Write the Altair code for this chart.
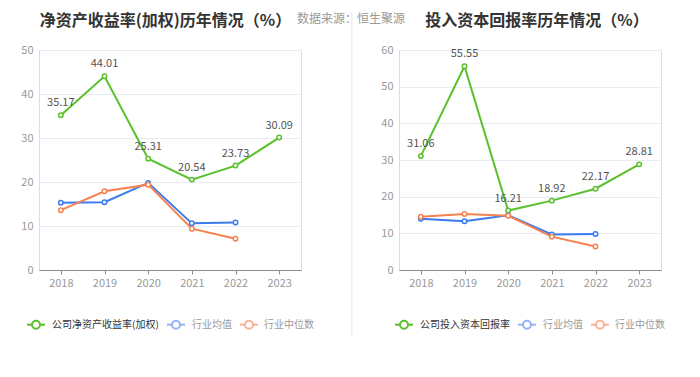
import altair as alt
import pandas as pd

years = ["2018", "2019", "2020", "2021", "2022", "2023"]

roe_company = [35.17, 44.01, 25.31, 20.54, 23.73, 30.09]
roe_avg = [15.3, 15.4, 19.8, 10.6, 10.8]
roe_median = [13.6, 17.9, 19.4, 9.4, 7.1]

roic_company = [31.06, 55.55, 16.21, 18.92, 22.17, 28.81]
roic_avg = [14.0, 13.3, 14.9, 9.7, 9.8]
roic_median = [14.5, 15.3, 14.8, 9.1, 6.4]

left_series = ["公司净资产收益率(加权)", "行业均值", "行业中位数"]
right_series = ["公司投入资本回报率", "行业均值", "行业中位数"]
left_title = "净资产收益率(加权)历年情况（%）"
right_title = "投入资本回报率历年情况（%）"
source_text = "数据来源：恒生聚源"
left_ticks = [0, 10, 20, 30, 40, 50]
right_ticks = [0, 10, 20, 30, 40, 50, 60]

line_colors = ["#5ac12c", "#3b7bf0", "#f7814f"]
legend_colors = ["#5ac12c", "#93b3f7", "#fab397"]
legend_text_colors = ["#333333", "#999999", "#999999"]

FONT = "Noto Sans CJK SC"
W, H = 262, 220
LEG_Y = 274.7
TOP = -37


def long_df(names, company, avg, median):
    rows = []
    for name, vals in zip(names, [company, avg, median]):
        for yr, v in zip(years, vals):
            rows.append({"year": yr, "series": name, "value": v})
    return pd.DataFrame(rows)


def legend_item(px, tx, label, col, tcol):
    d = alt.Chart(pd.DataFrame({"label": [label]}))
    rule = d.mark_rule(color=col, strokeWidth=2).encode(
        x=alt.value(px), x2=alt.value(px + 18), y=alt.value(LEG_Y))
    dot = d.mark_point(shape="circle", filled=True, fill="white", stroke=col,
                       strokeWidth=2, size=64, opacity=1).encode(
        x=alt.value(px + 9), y=alt.value(LEG_Y))
    txt = d.mark_text(align="left", baseline="middle", fontSize=10, color=tcol,
                      font=FONT).encode(
        x=alt.value(tx), y=alt.value(LEG_Y), text="label:N")
    return [rule, dot, txt]


def title_mark(title, cx):
    return alt.Chart(pd.DataFrame({"t": [title]})).mark_text(
        align="center", baseline="middle", fontSize=16, fontWeight="bold",
        color="#333333", font=FONT).encode(
        x=alt.value(cx), y=alt.value(TOP + 8), text="t:N")


def panel(names, company, avg, median, ticks, title, sym_x, text_x, title_cx, extra):
    df = long_df(names, company, avg, median)
    x = alt.X("year:O", scale=alt.Scale(type="point", padding=0.5, domain=years),
              axis=alt.Axis(title=None, labelAngle=0, domainColor="#8c8c8c",
                            tickColor="#8c8c8c", tickSize=4, labelColor="#999999",
                            labelFontSize=11, labelPadding=3, labelFont=FONT,
                            grid=False))
    y = alt.Y("value:Q", scale=alt.Scale(domain=[ticks[0], ticks[-1]], nice=False),
              axis=alt.Axis(title=None, values=ticks, domain=False, ticks=False,
                            gridColor="#e7ebf3", labelColor="#999999",
                            labelFontSize=11, labelPadding=6, labelFont=FONT))
    cscale = alt.Scale(domain=names, range=line_colors)
    base = alt.Chart(df)
    lines = base.mark_line(strokeWidth=2).encode(
        x=x, y=y, color=alt.Color("series:N", scale=cscale, legend=None))
    points = base.mark_point(shape="circle", filled=True, fill="white", size=20,
                             strokeWidth=1.5, opacity=1).encode(
        x=x, y=y, stroke=alt.Stroke("series:N", scale=cscale, legend=None))
    labels = base.transform_filter(alt.datum.series == names[0]).mark_text(
        dy=-12, fontSize=11, color="#555555", font=FONT, baseline="middle").encode(
        x=x, y=y, text=alt.Text("value:Q", format=".2f"))
    layers = [lines, points, labels]
    for i in range(3):
        layers += legend_item(sym_x[i], text_x[i], names[i], legend_colors[i],
                              legend_text_colors[i])
    layers += [title_mark(title, title_cx)]
    layers += extra
    return alt.layer(*layers).properties(width=W, height=H)


sep = alt.Chart(pd.DataFrame({"a": [0]})).mark_rule(
    color="#eeeeee", strokeWidth=1.5).encode(
    x=alt.value(312.7), y=alt.value(TOP), y2=alt.value(287))
src = alt.Chart(pd.DataFrame({"t": [source_text]})).mark_text(
    align="left", baseline="middle", fontSize=12, color="#999999", font=FONT).encode(
    x=alt.value(258), y=alt.value(TOP + 6), text="t:N")

left = panel(left_series, roe_company, roe_avg, roe_median, left_ticks, left_title,
             [-12, 128, 201], [13, 153, 225], 126.5, [sep, src])
right = panel(right_series, roic_company, roic_avg, roic_median, right_ticks, right_title,
              [-4, 119, 192], [21, 144, 216], 138, [])

chart = alt.hconcat(left, right, spacing=98, bounds="flush").resolve_scale(
    color="independent", stroke="independent", x="independent", y="independent"
).properties(
    padding={"left": 12, "top": 3, "right": 0, "bottom": 0},
    background="white",
).configure_view(stroke=None).configure(font=FONT)

chart.save("out.html", embed_options={"renderer": "svg", "actions": False})
